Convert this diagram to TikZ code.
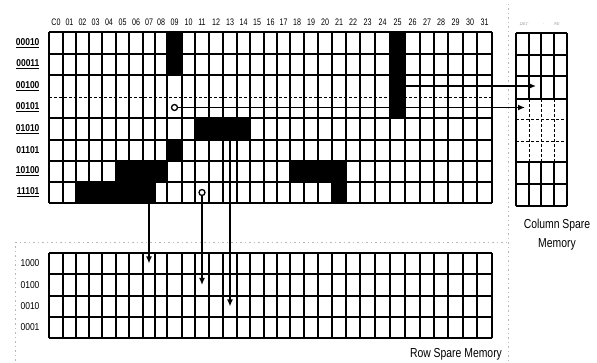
\documentclass[tikz,border=0pt]{standalone}
\usepackage{fontspec}
\setmainfont{Liberation Sans}
\newfontfamily\hdrfont[FakeStretch=0.75]{Liberation Sans}
\newfontfamily\lblfont[FakeStretch=0.85]{Liberation Sans}
\newfontfamily\capfont[FakeStretch=0.8]{Liberation Sans}
\usetikzlibrary{arrows.meta,fit,calc}
\begin{document}
\begin{tikzpicture}[x=1pt,y=-1pt,
  gridline/.style={line width=1.1pt,black},
  griddash/.style={line width=0.9pt,black,dash pattern=on 3pt off 2pt},
  faint/.style={line width=0.6pt,gray!55,dash pattern=on 1.5pt off 3pt},
  blk/.style={fill=black,draw=none,inner sep=0pt},
  hole/.style={circle,draw,line width=1.3pt,inner sep=0pt,minimum size=6pt,fill=white},
  arrowline/.style={line width=1.8pt,-{Latex[length=7pt,width=6pt]}},
  hdr/.style={font=\hdrfont\fontsize{9.5}{11}\selectfont},
  rowlbl/.style={anchor=east,font=\lblfont\bfseries\fontsize{10}{12}\selectfont},
  sparelbl/.style={anchor=east,font=\lblfont\fontsize{10}{12}\selectfont},
  caption/.style={font=\capfont\fontsize{13}{19}\selectfont,align=center}]
\useasboundingbox (0,0) rectangle (597,363);

% column boundaries
\foreach \xx [count=\i from 0] in {49,63,76,89,102,116,129,143,155,167,182,195,209,223,237,250,264,277,290,304,318,332,346,360,375,390,405,420,434,448,463,477,492}
  {\coordinate (c\i) at (\xx,0);}
% main rows
\foreach \yy [count=\j from 0] in {32,54,75,97,118,140,161,182,203}
  {\coordinate (r\j) at (0,\yy);}
% row spare rows
\foreach \yy [count=\j from 0] in {253,274,296,317,338}
  {\coordinate (s\j) at (0,\yy);}
% column spare
\foreach \xx [count=\i from 0] in {516,529,541,554,567}
  {\coordinate (d\i) at (\xx,0);}
\foreach \yy [count=\j from 0] in {33,55,76,99,119,141,162,184,206}
  {\coordinate (k\j) at (0,\yy);}

% faint separators
\draw[faint] (508,4) -- (508,363);
\draw[faint] (15,242) -- (508,242);
\draw[faint] (15,242) -- (15,363);

% black cells (drawn first)
\node[blk,fit=(c9|-r0)(c10|-r2)] (b1) {};
\node[blk,fit=(c25|-r0)(c26|-r4)] (b2) {};
\node[blk,fit=(c11|-r4)(c15|-r5)] (b3) {};
\node[blk,fit=(c9|-r5)(c10|-r6)] (b4) {};
\node[blk,fit=(c5|-r6)(c9|-r7)] (b5) {};
\node[blk,fit=(c18|-r6)(c22|-r7)] (b6) {};
\node[blk,fit=(c2|-r7)(c8|-r8)] (b7) {};
\node[blk,fit=(c21|-r7)(c22|-r8)] (b8) {};

% main grid
\foreach \i in {0,...,32} {\draw[gridline] (c\i|-r0) -- (c\i|-r8);}
\foreach \j in {0,1,2,4,5,6,7,8} {\draw[gridline] (c0|-r\j) -- (c32|-r\j);}
\draw[griddash] (c0|-r3) -- (c32|-r3);

% row spare grid
\foreach \i in {0,...,32} {\draw[gridline] (c\i|-s0) -- (c\i|-s4);}
\foreach \j in {0,...,4} {\draw[gridline] (c0|-s\j) -- (c32|-s\j);}

% column spare grid
\draw[gridline] (d0|-k0) -- (d0|-k8);
\draw[gridline] (d4|-k0) -- (d4|-k8);
\foreach \i in {1,2,3} {
  \draw[gridline] (d\i|-k0) -- (d\i|-k3);
  \draw[griddash] (d\i|-k3) -- (d\i|-k6);
  \draw[gridline] (d\i|-k6) -- (d\i|-k8);}
\foreach \j in {0,1,2,3,6,7,8} {\draw[gridline] (d0|-k\j) -- (d4|-k\j);}
\foreach \j in {4,5} {\draw[griddash] (d0|-k\j) -- (d4|-k\j);}

% column headers
\foreach \t [count=\i from 0] in {C0,01,02,03,04,05,06,07,08,09,10,11,12,13,14,15,16,17,18,19,20,21,22,23,24,25,26,27,28,29,30,31}
  {\pgfmathtruncatemacro{\n}{\i+1}
   \node[hdr] (h\i) at ($(c\i)!0.5!(c\n)+(0,22)$) {\t};}
\node[font=\hdrfont\fontsize{4}{5}\selectfont,text=gray] (hs1) at (524,24) {128 1''};
\node[font=\hdrfont\fontsize{4}{5}\selectfont,text=gray] (hs2) at (544,24) {$\cdot$};
\node[font=\hdrfont\fontsize{4}{5}\selectfont,text=gray] (hs3) at (557,24) {R3/};

% row labels
\node[rowlbl] (l0) at (43,43) {\underline{00010}};
\node[rowlbl] (l1) at (43,64.5) {\underline{00011}};
\node[rowlbl] (l2) at (43,86) {\underline{00100}};
\node[rowlbl] (l3) at (43,107.5) {\underline{00101}};
\node[rowlbl] (l4) at (43,129) {\underline{01010}};
\node[rowlbl] (l5) at (43,150.5) {01101};
\node[rowlbl] (l6) at (43,171.5) {\underline{10100}};
\node[rowlbl] (l7) at (43,192.5) {\underline{11101}};

\node[sparelbl] (m0) at (43,263.5) {1000};
\node[sparelbl] (m1) at (43,285) {0100};
\node[sparelbl] (m2) at (43,306.5) {0010};
\node[sparelbl] (m3) at (43,327.5) {0001};

% marked cells
\node[hole] (o1) at ($(c9|-r3)!0.5!(c10|-r4)$) {};
\node[hole] (o2) at ($(c11|-r7)!0.5!(c12|-r8)$) {};

% arrow targets
\coordinate (t1) at (536,86);
\coordinate (t2) at (525,107.5);
\coordinate (t3) at (149,263.5);
\coordinate (t4) at (202,285);
\coordinate (t5) at (230,306.5);

\draw[arrowline] (b2.east|-t1) -- (t1);
\draw[arrowline] (o1.east) -- (t2);
\draw[arrowline] (b7.south-|t3) -- (t3);
\draw[arrowline] (o2.south) -- (t4);
\draw[arrowline] (b3.south-|t5) -- (t5);

% captions
\node[caption] (cap1) at (557,235) {Column Spare\\Memory};
\node[caption] (cap2) at (456,354) {Row Spare Memory};
\end{tikzpicture}
\end{document}
